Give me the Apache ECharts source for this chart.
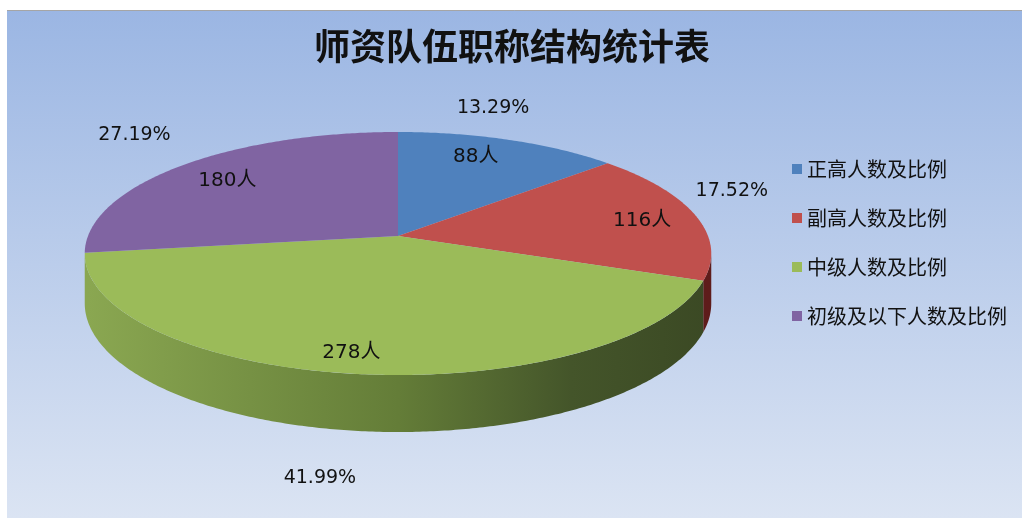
<!DOCTYPE html>
<html>
<head>
<meta charset="utf-8">
<script src="https://cdn.jsdelivr.net/npm/echarts@6/dist/echarts.min.js"></script>
<style>
  html, body { margin: 0; padding: 0; background: #fff; }
  #chart { width: 1024px; height: 518px; }
</style>
</head>
<body>
<div id="chart"></div>
<script>
// --- data ---
var categories = ['正高人数及比例', '副高人数及比例', '中级人数及比例', '初级及以下人数及比例'];
var counts = [88, 116, 278, 180];
var unit = '人';

// --- look ---
var topColors = ['#4f81bd', '#c0504d', '#9bbb59', '#8064a2'];
var sideStops = [
    [{ offset: 0, color: '#33507a' }, { offset: 1, color: '#1f3350' }],
    [{ offset: 0, color: '#7a2b2a' }, { offset: 1, color: '#5e1c1b' }],
    [{ offset: 0, color: '#8aa751' }, { offset: 0.5, color: '#647d38' }, { offset: 0.78, color: '#44552a' }, { offset: 1, color: '#3b4924' }],
    [{ offset: 0, color: '#5c4678' }, { offset: 1, color: '#3f2f55' }]
];
// label nudges (screen px) - Excel "best fit" placement isn't radial
var innerNudge = [[-8, -5], [20, 1], [-17, 17], [-7, 0]];
var outerNudge = [[-16, -32], [37, -24], [-37, 47], [-50, -30]];

// pie projection (slight perspective like Excel's 3D pie)
var CX = 398, CY = 236;   // projected centre
var RX = 310, RY = 119;   // radii
var K = 0.144;            // perspective strength
var DEPTH = 48.8;         // thickness
var LO = Math.acos(-K), HI = 2 * Math.PI - LO;  // visible side range

var total = counts.reduce(function (a, b) { return a + b; }, 0);
var starts = [];
counts.reduce(function (acc, c) { starts.push(acc); return acc + c; }, 0);

function proj(theta, r, drop) {
    var u = r * Math.sin(theta), v = -r * Math.cos(theta);
    var d = 1 - K * v;
    return [CX + RX * u / d, CY + (RY * v + drop) / d];
}

function arc(a1, a2, drop) {
    var pts = [];
    var n = Math.max(2, Math.ceil((a2 - a1) / 0.01));
    for (var i = 0; i <= n; i++) pts.push(proj(a1 + (a2 - a1) * i / n, 1, drop));
    return pts;
}

function makeRenderer(idx) {
    return function (params, api) {
        var start = api.value(0), val = api.value(1);
        var a1 = start / total * 2 * Math.PI;
        var a2 = (start + val) / total * 2 * Math.PI;
        var mid = (a1 + a2) / 2;
        var children = [];

        // side wall
        var s1 = Math.max(a1, LO), s2 = Math.min(a2, HI);
        if (s2 > s1) {
            var pts = arc(s1, s2, 0).concat(arc(s1, s2, DEPTH).reverse());
            children.push({
                type: 'polygon',
                shape: { points: pts },
                style: { fill: new echarts.graphic.LinearGradient(CX - RX, 0, CX + RX, 0, sideStops[idx], true) }
            });
        }

        // top face
        children.push({
            type: 'polygon',
            shape: { points: [proj(0, 0, 0)].concat(arc(a1, a2, 0)) },
            style: { fill: topColors[idx] }
        });

        // value label inside
        var ip = proj(mid, 0.75, 0);
        children.push({
            type: 'text',
            x: ip[0] + innerNudge[idx][0], y: ip[1] + innerNudge[idx][1],
            style: {
                text: val + unit, align: 'center', verticalAlign: 'middle',
                fontSize: 20, fontFamily: 'DejaVu Sans, Noto Sans CJK SC', fill: '#111'
            }
        });

        // percentage outside
        var front = mid > LO && mid < HI;
        var op = proj(mid, 1, front ? DEPTH : 0);
        children.push({
            type: 'text',
            x: op[0] + outerNudge[idx][0], y: op[1] + outerNudge[idx][1],
            style: {
                text: (val / total * 100).toFixed(2) + '%', align: 'center', verticalAlign: 'middle',
                fontSize: 19, fontFamily: 'DejaVu Sans, Noto Sans CJK SC', fill: '#111'
            }
        });

        return { type: 'group', children: children };
    };
}

var chart = echarts.init(document.getElementById('chart'));
chart.setOption({
    backgroundColor: '#ffffff',
    animation: false,
    title: {
        text: '师资队伍职称结构统计表',
        left: 'center',
        top: 23,
        textStyle: { fontSize: 36, fontWeight: 'bold', color: '#111', fontFamily: 'Noto Sans CJK SC' }
    },
    legend: {
        orient: 'vertical',
        left: 787,
        top: 154,
        icon: 'rect',
        itemWidth: 10,
        itemHeight: 10,
        itemGap: 29,
        data: categories,
        textStyle: { fontSize: 20, lineHeight: 20, color: '#111', fontFamily: 'Noto Sans CJK SC' }
    },
    graphic: [
        {
            type: 'rect', silent: true, z: -10,
            shape: { x: 7, y: 10, width: 1015, height: 508 },
            style: { fill: new echarts.graphic.LinearGradient(0, 0, 0, 1, [
                { offset: 0, color: '#9bb6e3' },
                { offset: 1, color: '#dbe4f3' }
            ]) }
        },
        {
            type: 'line', silent: true, z: -9,
            shape: { x1: 7, y1: 10.5, x2: 1022, y2: 10.5 },
            style: { stroke: '#a5a5a5', lineWidth: 1 }
        }
    ],
    series: categories.map(function (name, i) {
        return {
            type: 'custom',
            name: name,
            coordinateSystem: 'none',
            itemStyle: { color: topColors[i] },
            data: [[starts[i], counts[i]]],
            renderItem: makeRenderer(i)
        };
    })
});
</script>
</body>
</html>
